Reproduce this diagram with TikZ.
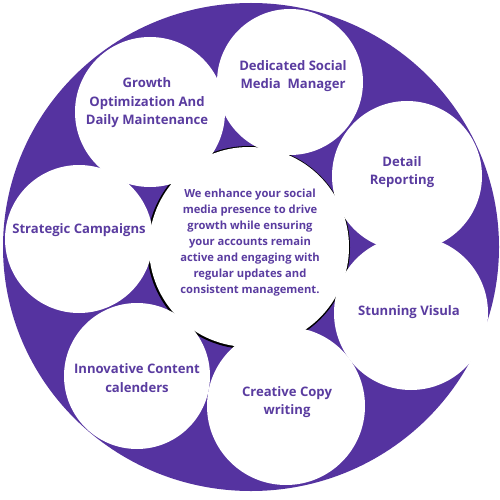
\documentclass[tikz,border=0pt]{standalone}
\usepackage{fontspec}
\setmainfont{Open Sans}
\definecolor{ringpurple}{HTML}{5533A0}
\definecolor{txtpurple}{HTML}{5A3CA0}
\begin{document}
\begin{tikzpicture}[x=1pt,y=-1pt,
  sat/.style={circle,fill=white,inner sep=0pt},
  lbl/.style={align=center,text=txtpurple,font=\bfseries\fontsize{13.1}{18.5}\selectfont,inner sep=0pt},
  ctxt/.style={align=center,text=txtpurple,font=\bfseries\fontsize{11.2}{16}\selectfont,inner sep=0pt}]
\useasboundingbox (0,0) rectangle (500,500);
% outer purple disc
\fill[ringpurple] (251,247) ellipse [x radius=248, y radius=244];
% centre circle with dark rim
\fill[black] (248.5,247.5) circle [radius=101.5];
\node[sat,minimum size=200pt] (core) at (249,247) {};
% satellites
\node[sat,minimum size=150pt] (growth) at (150,112) {};
\node[sat,minimum size=146pt] (dedic) at (290,82) {};
\node[sat,minimum size=150pt] (detail) at (407,176) {};
\node[sat,minimum size=154pt] (stun) at (411,313) {};
\node[sat,minimum size=158pt] (creat) at (286,406) {};
\node[sat,minimum size=146pt] (innov) at (137,376) {};
\node[sat,minimum size=148pt] (strat) at (79,239) {};
% texts
\node[lbl] (tgrowth) at (147,103) {Growth\\Optimization And\\Daily Maintenance};
\node[lbl] (tdedic) at (293,76) {Dedicated Social\\Media~ Manager};
\node[lbl] (tdetail) at (402,172) {Detail\\Reporting};
\node[lbl] (tstun) at (409,312) {Stunning Visula};
\node[lbl] (tcreat) at (287,402) {Creative Copy\\writing};
\node[lbl] (tinnov) at (137,378) {Innovative Content\\calenders};
\node[lbl] (tstrat) at (79,230) {Strategic Campaigns};
\node[ctxt] (tcore) at (250,243) {We enhance your social\\media presence to drive\\growth while ensuring\\your accounts remain\\active and engaging with\\regular updates and\\consistent management.};
\end{tikzpicture}
\end{document}
